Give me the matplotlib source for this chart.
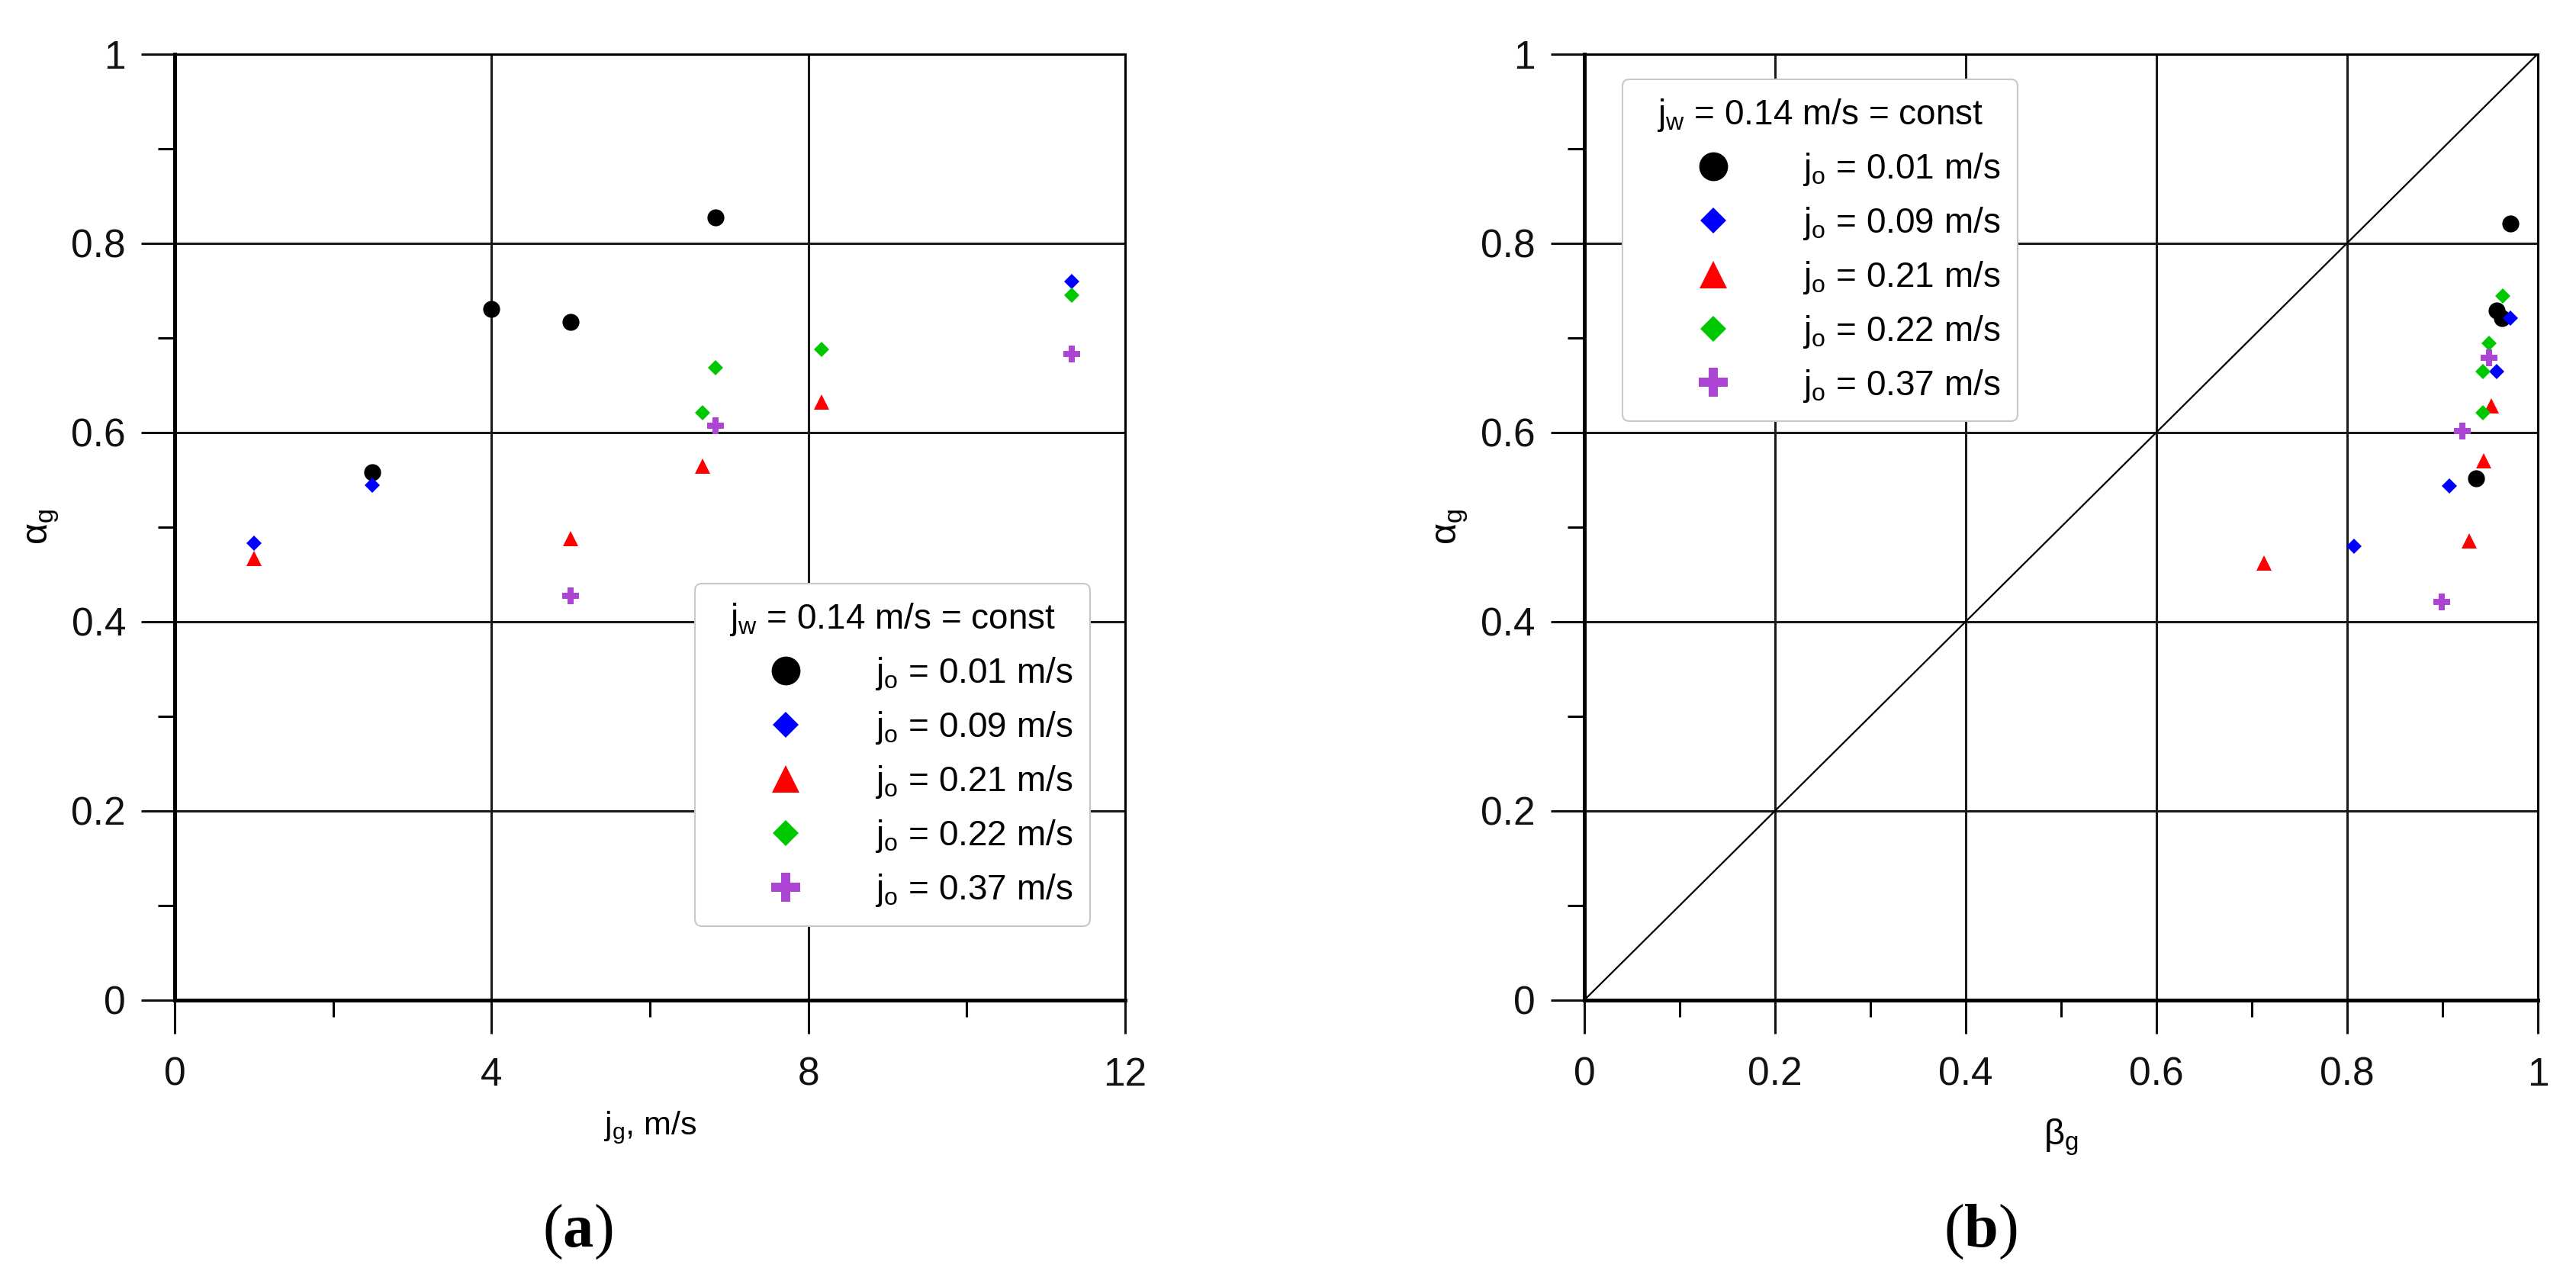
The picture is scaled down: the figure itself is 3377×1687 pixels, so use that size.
import matplotlib
matplotlib.use("Agg")
import matplotlib.pyplot as plt
from matplotlib import font_manager
from matplotlib.ticker import MultipleLocator, FuncFormatter

# ---- data ----
series_labels = ["0.01", "0.09", "0.21", "0.22", "0.37"]
colors  = ["black", "#0000ff", "#ff0000", "#00c800", "#ac44d4"]
markers = ["o", "D", "^", "D", "P"]
msizes  = [16, 10, 15, 10, 16]

# (a) alpha_g vs j_g
jg_a = [
    [2.49, 4.0, 5.0, 6.83],
    [1.0, 2.49, 11.33],
    [1.0, 5.0, 6.66, 8.17],
    [6.66, 6.83, 8.17, 11.33],
    [5.0, 6.83, 11.33],
]
alpha_a = [
    [0.558, 0.730, 0.717, 0.827],
    [0.483, 0.544, 0.759],
    [0.467, 0.488, 0.564, 0.632],
    [0.621, 0.668, 0.688, 0.745],
    [0.427, 0.607, 0.683],
]

# (b) alpha_g vs beta_g
beta_b = [
    [0.935, 0.957, 0.962, 0.971],
    [0.807, 0.907, 0.957, 0.971],
    [0.713, 0.928, 0.943, 0.951],
    [0.942, 0.942, 0.949, 0.963],
    [0.899, 0.921, 0.949],
]
alpha_b = [
    [0.551, 0.729, 0.721, 0.821],
    [0.480, 0.543, 0.664, 0.721],
    [0.462, 0.485, 0.570, 0.628],
    [0.621, 0.664, 0.694, 0.744],
    [0.421, 0.601, 0.679],
]

installed = {f.name for f in font_manager.fontManager.ttflist}
sans = "Liberation Sans Narrow" if "Liberation Sans Narrow" in installed else "Liberation Sans"
plt.rcParams["font.family"] = [sans, "Liberation Sans", "DejaVu Sans"]
plt.rcParams["mathtext.fontset"] = "custom"
plt.rcParams["mathtext.sf"] = sans
plt.rcParams["mathtext.rm"] = "Liberation Serif"
plt.rcParams["mathtext.bf"] = "Liberation Serif:bold"

fig = plt.figure(figsize=(33.77, 16.87), dpi=100)
ax_a = fig.add_axes([0.0678, 0.2229, 0.3690, 0.7353])
ax_b = fig.add_axes([0.6150, 0.2229, 0.3702, 0.7353])

fmt = FuncFormatter(lambda v, p: f"{v:g}")


def style(ax, xmax, xmajor, xminor):
    ax.set_xlim(0, xmax)
    ax.set_ylim(0, 1)
    ax.xaxis.set_major_locator(MultipleLocator(xmajor))
    ax.xaxis.set_minor_locator(MultipleLocator(xminor))
    ax.yaxis.set_major_locator(MultipleLocator(0.2))
    ax.yaxis.set_minor_locator(MultipleLocator(0.1))
    ax.xaxis.set_major_formatter(fmt)
    ax.yaxis.set_major_formatter(fmt)
    ax.grid(True, which="major", color="#1a1a1a", linewidth=2.2, zorder=1)
    ax.set_axisbelow(True)
    for side in ["left", "bottom"]:
        ax.spines[side].set_linewidth(3.6)
    for side in ["right", "top"]:
        ax.spines[side].set_linewidth(2.2)
    ax.tick_params(which="major", direction="out", length=32, width=2.2,
                   labelsize=37, colors="#111111")
    ax.tick_params(which="minor", direction="out", length=16, width=2.2)
    ax.tick_params(axis="y", pad=14)
    ax.tick_params(axis="x", pad=21)


def scatter_all(ax, xs, ys):
    for x, y, lab, c, m, s in zip(xs, ys, series_labels, colors, markers, msizes):
        ax.plot(x, y, linestyle="none", marker=m, color=c, markersize=s,
                markeredgewidth=0, label=f"j$_\\mathsf{{o}}$ = {lab} m/s",
                zorder=3, clip_on=False)


def add_legend(ax, anchor):
    leg = ax.legend(title="j$_\\mathsf{w}$ = 0.14 m/s = const",
                    loc="upper left", bbox_to_anchor=anchor, borderaxespad=0,
                    fontsize=33, title_fontsize=33, markerscale=1.7,
                    handlelength=4.2, handletextpad=0.45, borderpad=0.5,
                    labelspacing=0.5, fancybox=True, framealpha=1,
                    edgecolor="#c8c8c8")
    leg.get_frame().set_linewidth(1.5)
    leg.set_zorder(5)


# (a)
style(ax_a, 12, 4, 2)
scatter_all(ax_a, jg_a, alpha_a)
ax_a.set_xlabel("j$_\\mathsf{g}$, m/s", fontsize=31, labelpad=15)
ax_a.set_ylabel("α$_\\mathsf{g}$", fontsize=35, labelpad=10)
add_legend(ax_a, (0.547, 0.440))

# (b)
style(ax_b, 1, 0.2, 0.1)
ax_b.plot([0, 1], [0, 1], color="black", linewidth=1.6, zorder=2)
scatter_all(ax_b, beta_b, alpha_b)
ax_b.set_xlabel("β$_\\mathsf{g}$", fontsize=34, labelpad=22)
ax_b.set_ylabel("α$_\\mathsf{g}$", fontsize=35, labelpad=10)
add_legend(ax_b, (0.040, 0.973))

fig.text(757 / 3377, 0.043, r"$(\mathbf{a})$", fontsize=58, ha="center", va="center")
fig.text(2596 / 3377, 0.043, r"$(\mathbf{b})$", fontsize=58, ha="center", va="center")

fig.savefig("out.png", dpi=100, facecolor="white")
